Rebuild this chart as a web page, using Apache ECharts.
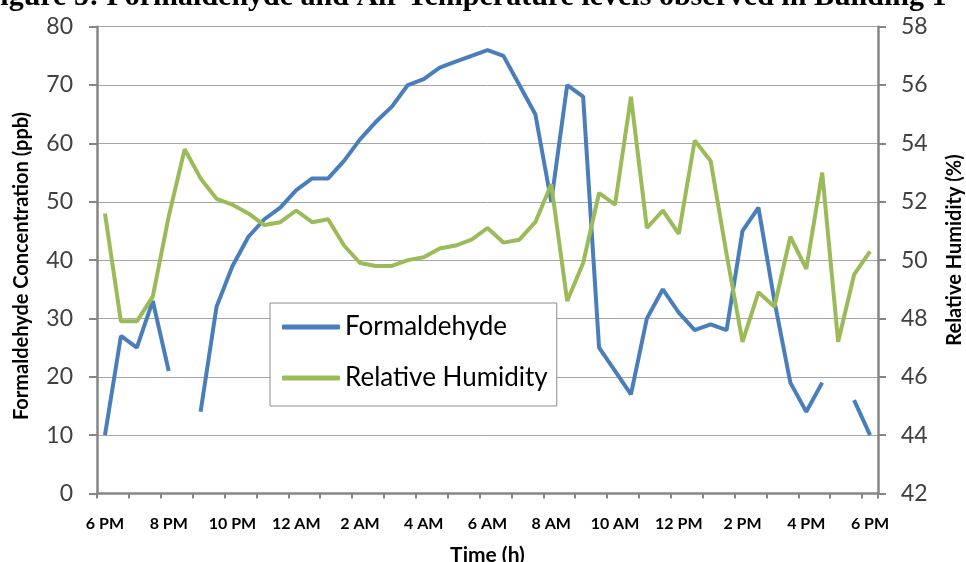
<!DOCTYPE html>
<html>
<head>
<meta charset="utf-8">
<script src="https://cdn.jsdelivr.net/npm/echarts@6/dist/echarts.min.js"></script>
<style>
html,body{margin:0;padding:0;background:#fff;}
#chart{width:966px;height:562px;}
</style>
</head>
<body>
<div id="chart"></div>
<script>
var titleText = "Figure 5: Formaldehyde and Air Temperature levels observed in Building 1";
var times = ["6 PM","6:30 PM","7 PM","7:30 PM","8 PM","8:30 PM","9 PM","9:30 PM","10 PM","10:30 PM","11 PM","11:30 PM",
  "12 AM","12:30 AM","1 AM","1:30 AM","2 AM","2:30 AM","3 AM","3:30 AM","4 AM","4:30 AM","5 AM","5:30 AM",
  "6 AM","6:30 AM","7 AM","7:30 AM","8 AM","8:30 AM","9 AM","9:30 AM","10 AM","10:30 AM","11 AM","11:30 AM",
  "12 PM","12:30 PM","1 PM","1:30 PM","2 PM","2:30 PM","3 PM","3:30 PM","4 PM","4:30 PM","5 PM","5:30 PM","6 PM"];
var formaldehyde = [10,27,25,33,21,null,14,32,39,44,47,49,52,54,54,57,60.7,63.7,66.3,70,71,73,74,75,76,75,70,65,50,70,68,25,21,17,30,35,31,28,29,28,45,49,33,19,14,19,null,16,10];
var humidity = [51.6,47.9,47.9,48.75,51.5,53.8,52.8,52.1,51.9,51.6,51.2,51.3,51.7,51.3,51.4,50.5,49.9,49.8,49.8,50.0,50.1,50.4,50.5,50.7,51.1,50.6,50.7,51.3,52.6,48.6,49.9,52.3,51.9,55.6,51.1,51.7,50.9,54.1,53.4,50.2,47.2,48.9,48.4,50.8,49.7,53.0,47.2,49.5,50.3];
var seriesNames = ["Formaldehyde","Relative Humidity"];
var leftAxisName = "Formaldehyde Concentration (ppb)";
var rightAxisName = "Relative Humidity (%)";
var xAxisName = "Time (h)";

var FONT = "Lato";
var axisGray = "#868686";
var chart = echarts.init(document.getElementById('chart'), null, {renderer:'canvas'});
chart.setOption({
  animation:false,
  backgroundColor:'#ffffff',
  graphic:[
    {type:'text', x:-18, y:12, style:{text:titleText, font:'bold 30px "Liberation Serif"', fill:'#000', textAlign:'left', textVerticalAlign:'bottom'}},
    {type:'text', x:22, y:266, rotation:Math.PI/2, style:{text:leftAxisName, font:'bold 20px '+FONT, fill:'#000', textAlign:'center', textVerticalAlign:'middle'}},
    {type:'text', x:955, y:250, rotation:Math.PI/2, style:{text:rightAxisName, font:'bold 20px '+FONT, fill:'#000', textAlign:'center', textVerticalAlign:'middle'}}
  ],
  grid:{left:97, right:88, top:26.7, bottom:68.5, containLabel:false, outerBoundsMode:'none'},
  legend:{
    orient:'vertical', left:270, top:303,
    data:seriesNames,
    icon:'roundRect', itemWidth:58, itemHeight:5, itemGap:25,
    padding:[11,9,15,12],
    borderColor:'#8c8c8c', borderWidth:1, backgroundColor:'#fff',
    textStyle:{fontFamily:FONT, fontSize:26, color:'#000', padding:[0,0,0,0]}
  },
  xAxis:{
    type:'category', data:times, boundaryGap:true,
    name:xAxisName, nameLocation:'middle', nameGap:51,
    nameTextStyle:{fontFamily:FONT, fontWeight:'bold', fontSize:21, color:'#000', verticalAlign:'top'},
    axisLine:{show:true, lineStyle:{color:axisGray, width:2.5}},
    axisTick:{show:true, interval:1, length:5, lineStyle:{color:axisGray, width:2}},
    axisLabel:{interval:3, fontFamily:FONT, fontWeight:'bold', fontSize:16, color:'#000', margin:22},
    splitLine:{show:false}
  },
  yAxis:[
    {type:'value', min:0, max:80, interval:10, position:'left',
     axisLine:{show:true, lineStyle:{color:axisGray, width:2.5}},
     axisTick:{show:true, length:8, lineStyle:{color:axisGray, width:2}},
     axisLabel:{fontFamily:FONT, fontSize:23, color:'#404040', margin:24},
     splitLine:{show:true, lineStyle:{color:'#a6a6a6', width:1}}
    },
    {type:'value', min:42, max:58, interval:2, position:'right',
     axisLine:{show:true, lineStyle:{color:axisGray, width:2.5}},
     axisTick:{show:true, length:8, lineStyle:{color:axisGray, width:2}},
     axisLabel:{fontFamily:FONT, fontSize:23, color:'#404040', margin:23},
     splitLine:{show:false}
    }
  ],
  series:[
    {name:seriesNames[0], type:'line', data:formaldehyde, yAxisIndex:0, symbol:'none', connectNulls:false,
     lineStyle:{color:'#4a7ebb', width:4}, itemStyle:{color:'#4a7ebb'}, z:2},
    {name:seriesNames[1], type:'line', data:humidity, yAxisIndex:1, symbol:'none',
     lineStyle:{color:'#9bbb59', width:4}, itemStyle:{color:'#9bbb59'}, z:3}
  ]
});
</script>
</body>
</html>
